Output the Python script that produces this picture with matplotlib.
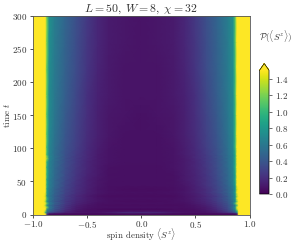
import matplotlib
matplotlib.use('Agg')
import matplotlib.pyplot as plt
import numpy as np

plt.rcParams['mathtext.fontset'] = 'cm'
plt.rcParams['font.family'] = 'cmr10'
plt.rcParams['axes.formatter.use_mathtext'] = True
plt.rcParams['axes.unicode_minus'] = False

s_nodes = [-1.0, -0.9, -0.885, -0.87, -0.85, -0.8, -0.7, -0.6, -0.5, -0.4, -0.3, -0.15, 0.0,
           0.15, 0.3, 0.4, 0.5, 0.6, 0.7, 0.8, 0.85, 0.87, 0.885, 0.9, 1.0]
t_nodes = [0, 1.5, 3, 5, 8, 11, 14, 17, 20, 24, 28, 33, 38, 44, 52, 60, 70, 80, 85, 90, 100,
           120, 150, 180, 220, 260, 300]

# density per time row
density = [
    [1.5, 1.5, 1.5, 0.20, 0.04, 0.03, 0.03, 0.03, 0.03, 0.03, 0.03, 0.04, 0.04, 0.04, 0.03, 0.03, 0.03, 0.03, 0.03, 0.03, 0.03, 0.03, 0.10, 1.5, 1.5],
    [1.5, 1.5, 1.5, 0.30, 0.06, 0.04, 0.03, 0.03, 0.03, 0.03, 0.03, 0.04, 0.04, 0.04, 0.03, 0.03, 0.03, 0.03, 0.03, 0.03, 0.03, 0.04, 0.10, 1.5, 1.5],
    [1.5, 1.5, 1.0, 0.45, 0.30, 0.24, 0.14, 0.10, 0.08, 0.08, 0.12, 0.20, 0.20, 0.18, 0.10, 0.08, 0.07, 0.08, 0.12, 0.20, 0.28, 0.35, 0.55, 1.5, 1.5],
    [1.5, 1.5, 1.2, 0.55, 0.48, 0.34, 0.16, 0.08, 0.06, 0.06, 0.07, 0.08, 0.08, 0.08, 0.07, 0.06, 0.06, 0.08, 0.14, 0.28, 0.42, 0.55, 0.90, 1.5, 1.5],
    [1.5, 1.5, 1.5, 0.70, 0.56, 0.38, 0.20, 0.11, 0.06, 0.05, 0.04, 0.04, 0.04, 0.04, 0.05, 0.05, 0.06, 0.10, 0.18, 0.32, 0.52, 0.68, 1.3, 1.5, 1.5],
    [1.5, 1.5, 1.5, 1.20, 0.62, 0.42, 0.22, 0.12, 0.08, 0.06, 0.06, 0.06, 0.06, 0.06, 0.06, 0.06, 0.08, 0.11, 0.20, 0.34, 0.58, 0.85, 1.5, 1.5, 1.5],
    [1.5, 1.5, 1.3, 0.70, 0.56, 0.40, 0.23, 0.13, 0.08, 0.06, 0.05, 0.05, 0.05, 0.05, 0.05, 0.06, 0.08, 0.13, 0.22, 0.36, 0.50, 0.65, 1.1, 1.5, 1.5],
    [1.5, 1.5, 1.5, 1.10, 0.64, 0.46, 0.26, 0.15, 0.10, 0.07, 0.06, 0.06, 0.06, 0.06, 0.06, 0.07, 0.10, 0.15, 0.24, 0.38, 0.62, 1.10, 1.5, 1.5, 1.5],
    [1.5, 1.5, 1.3, 0.72, 0.58, 0.42, 0.25, 0.16, 0.11, 0.08, 0.06, 0.05, 0.05, 0.05, 0.06, 0.08, 0.11, 0.16, 0.26, 0.40, 0.56, 0.72, 1.2, 1.5, 1.5],
    [1.5, 1.5, 1.5, 1.00, 0.62, 0.46, 0.28, 0.18, 0.12, 0.08, 0.06, 0.06, 0.06, 0.06, 0.06, 0.08, 0.12, 0.18, 0.28, 0.42, 0.62, 0.85, 1.5, 1.5, 1.5],
    [1.5, 1.5, 1.4, 0.72, 0.60, 0.44, 0.27, 0.17, 0.11, 0.07, 0.05, 0.05, 0.05, 0.05, 0.05, 0.08, 0.11, 0.17, 0.26, 0.42, 0.60, 0.75, 1.3, 1.5, 1.5],
    [1.5, 1.5, 1.5, 0.85, 0.62, 0.48, 0.30, 0.20, 0.13, 0.09, 0.07, 0.06, 0.06, 0.06, 0.07, 0.09, 0.13, 0.20, 0.30, 0.46, 0.64, 0.90, 1.5, 1.5, 1.5],
    [1.5, 1.5, 1.5, 0.80, 0.62, 0.47, 0.30, 0.20, 0.13, 0.08, 0.06, 0.05, 0.05, 0.05, 0.06, 0.08, 0.13, 0.19, 0.30, 0.46, 0.60, 0.80, 1.4, 1.5, 1.5],
    [1.5, 1.5, 1.5, 0.90, 0.64, 0.50, 0.32, 0.21, 0.14, 0.09, 0.06, 0.06, 0.06, 0.06, 0.07, 0.09, 0.14, 0.22, 0.32, 0.48, 0.64, 0.85, 1.5, 1.5, 1.5],
    [1.5, 1.5, 1.5, 0.85, 0.64, 0.50, 0.33, 0.22, 0.14, 0.09, 0.07, 0.06, 0.06, 0.06, 0.07, 0.10, 0.15, 0.22, 0.33, 0.50, 0.66, 0.95, 1.5, 1.5, 1.5],
    [1.5, 1.5, 1.5, 0.95, 0.66, 0.52, 0.34, 0.23, 0.15, 0.10, 0.07, 0.06, 0.06, 0.06, 0.07, 0.10, 0.15, 0.23, 0.34, 0.50, 0.66, 0.90, 1.5, 1.5, 1.5],
    [1.5, 1.5, 1.5, 0.90, 0.66, 0.52, 0.35, 0.24, 0.16, 0.10, 0.07, 0.06, 0.06, 0.06, 0.08, 0.11, 0.16, 0.24, 0.35, 0.52, 0.68, 1.00, 1.5, 1.5, 1.5],
    [1.5, 1.5, 1.5, 0.95, 0.66, 0.53, 0.36, 0.25, 0.16, 0.11, 0.08, 0.07, 0.07, 0.07, 0.08, 0.11, 0.16, 0.25, 0.36, 0.53, 0.68, 0.95, 1.5, 1.5, 1.5],
    [1.5, 1.5, 1.5, 1.25, 0.70, 0.55, 0.36, 0.25, 0.17, 0.11, 0.08, 0.07, 0.07, 0.07, 0.08, 0.11, 0.17, 0.25, 0.36, 0.53, 0.68, 1.00, 1.5, 1.5, 1.5],
    [1.5, 1.5, 1.5, 1.00, 0.68, 0.54, 0.37, 0.26, 0.17, 0.11, 0.08, 0.07, 0.07, 0.07, 0.08, 0.12, 0.17, 0.26, 0.37, 0.54, 0.68, 0.95, 1.5, 1.5, 1.5],
    [1.5, 1.5, 1.5, 1.00, 0.68, 0.55, 0.38, 0.27, 0.18, 0.12, 0.08, 0.07, 0.07, 0.07, 0.08, 0.12, 0.18, 0.27, 0.38, 0.55, 0.70, 1.05, 1.5, 1.5, 1.5],
    [1.5, 1.5, 1.5, 1.05, 0.70, 0.57, 0.40, 0.29, 0.19, 0.13, 0.09, 0.07, 0.07, 0.07, 0.09, 0.13, 0.19, 0.29, 0.40, 0.57, 0.71, 1.05, 1.5, 1.5, 1.5],
    [1.5, 1.5, 1.5, 1.05, 0.71, 0.59, 0.42, 0.30, 0.20, 0.13, 0.09, 0.08, 0.07, 0.08, 0.09, 0.13, 0.20, 0.30, 0.42, 0.59, 0.72, 1.05, 1.5, 1.5, 1.5],
    [1.5, 1.5, 1.5, 1.10, 0.72, 0.60, 0.44, 0.32, 0.21, 0.14, 0.10, 0.08, 0.08, 0.08, 0.10, 0.14, 0.21, 0.32, 0.44, 0.60, 0.73, 1.10, 1.5, 1.5, 1.5],
    [1.5, 1.5, 1.5, 1.10, 0.73, 0.61, 0.46, 0.34, 0.23, 0.15, 0.10, 0.08, 0.08, 0.08, 0.10, 0.15, 0.23, 0.34, 0.46, 0.61, 0.74, 1.10, 1.5, 1.5, 1.5],
    [1.5, 1.5, 1.5, 1.15, 0.74, 0.62, 0.47, 0.35, 0.24, 0.16, 0.11, 0.09, 0.08, 0.09, 0.11, 0.16, 0.24, 0.35, 0.47, 0.62, 0.75, 1.15, 1.5, 1.5, 1.5],
    [1.5, 1.5, 1.5, 1.15, 0.75, 0.63, 0.48, 0.36, 0.25, 0.16, 0.11, 0.09, 0.08, 0.09, 0.11, 0.16, 0.25, 0.36, 0.48, 0.63, 0.76, 1.15, 1.5, 1.5, 1.5],
]

x_ticks = [-1.0, -0.5, 0.0, 0.5, 1.0]
y_ticks = [0, 50, 100, 150, 200, 250, 300]
cb_ticks = [0.0, 0.2, 0.4, 0.6, 0.8, 1.0, 1.2, 1.4]

fig = plt.figure(figsize=(2.95, 2.44), dpi=100)
ax = fig.add_axes([33 / 295, 1 - 214.5 / 244, 216.5 / 295, 199 / 244])
mesh = ax.pcolormesh(s_nodes, t_nodes, np.array(density), cmap='viridis', vmin=0, vmax=1.5, shading='gouraud')
ax.set_xlim(-1, 1)
ax.set_ylim(0, 300)
ax.set_xticks(x_ticks)
ax.set_xticklabels(['$%.1f$' % v for v in x_ticks])
ax.set_yticks(y_ticks)
ax.set_yticklabels(['$%d$' % v for v in y_ticks])
ax.tick_params(length=2.5, width=0.6, pad=2, labelsize=6.5, labelcolor='#333333', color='#333333')
ax.tick_params(axis='x', pad=1)
for sp in ax.spines.values():
    sp.set_linewidth(0.6)
    sp.set_color('#555555')
ax.set_xlabel(r'spin density $\langle S^z\rangle$', fontsize=6.5, color='#333333')
ax.xaxis.set_label_coords(0.5, -0.062)
ax.set_ylabel(r'time $t$', fontsize=6.5, color='#333333')
ax.yaxis.set_label_coords(-0.098, 0.5)
ax.set_title(r'$L=50,\; W=8,\; \chi=32$', fontsize=8.5, pad=2, color='#333333')

# extended colorbar, 0 to 1.5 over 130 px plus the arrow
cax = fig.add_axes([259.5 / 295, 1 - 194 / 244, 9.5 / 295, 130.5 / 244])
cb = fig.colorbar(mesh, cax=cax, extend='max', extendfrac=0.055, ticks=cb_ticks)
cb.ax.tick_params(length=2, width=0.5, pad=2, labelsize=6.5, labelcolor='#333333', color='#333333')
cb.set_ticklabels(['$%.1f$' % v for v in cb_ticks])
cb.outline.set_linewidth(0.5)
fig.text(259 / 295, 1 - 37 / 244, r'$\mathcal{P}(\langle S^z\rangle)$', fontsize=6.5, va='center', color='#333333')

fig.savefig('out.png', dpi=100)
